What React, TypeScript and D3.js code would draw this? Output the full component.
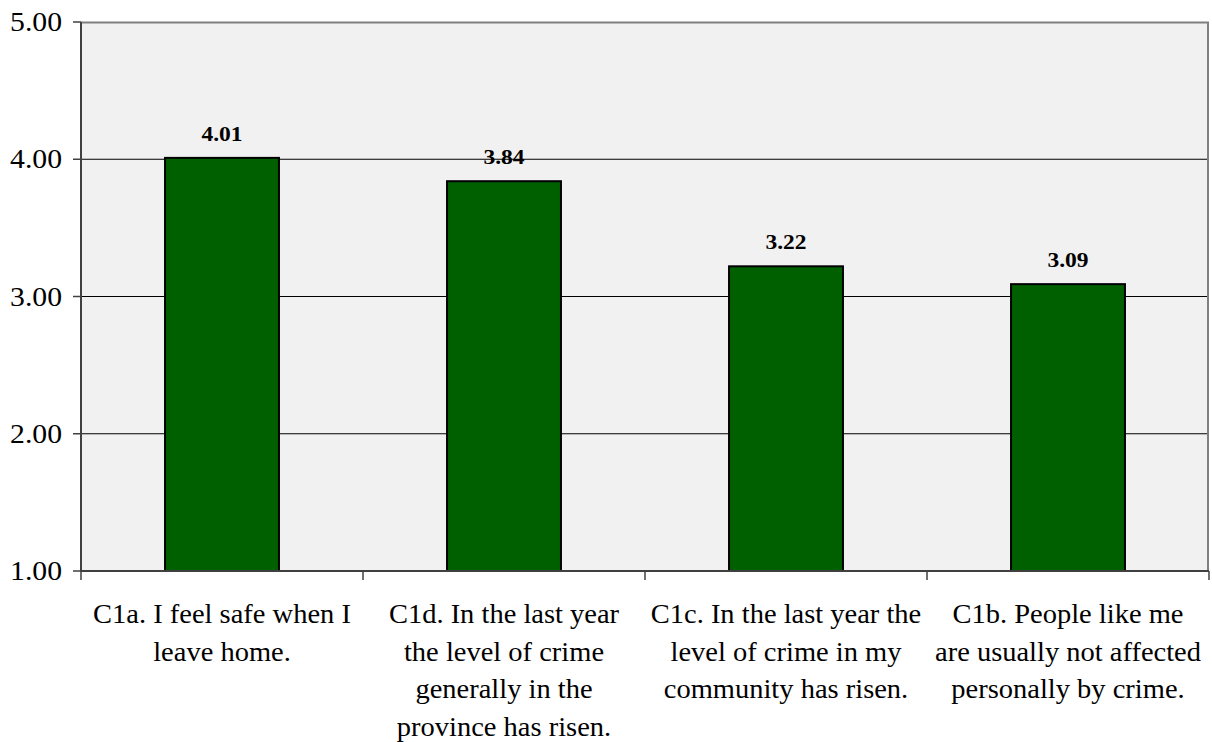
import * as d3 from "d3";
import React, { useEffect, useRef } from "react";

const categories = [
  ["C1a. I feel safe when I", "leave home."],
  ["C1d. In the last year", "the level of crime", "generally in the", "province has risen."],
  ["C1c. In the last year the", "level of crime in my", "community has risen."],
  ["C1b. People like me", "are usually not affected", "personally by crime."],
];
const values = [4.01, 3.84, 3.22, 3.09];
const yTicks = [1, 2, 3, 4, 5];

const W = 1212;
const H = 742;
const margin = { top: 22, right: 3, bottom: 171, left: 81 };
const FONT = "'Liberation Serif', 'Times New Roman', serif";

function drawChart(node: SVGSVGElement) {
  const svg = d3.select(node);
  svg.selectAll("*").remove();

  const x = d3
    .scaleBand<number>()
    .domain(d3.range(categories.length))
    .range([margin.left, W - margin.right])
    .paddingInner(0.596)
    .paddingOuter(0.298);
  const y = d3.scaleLinear().domain([1, 5]).range([H - margin.bottom, margin.top]);

  const x0 = margin.left;
  const x1 = W - margin.right;
  const y0 = H - margin.bottom;
  const y1 = margin.top;

  // plot background
  svg
    .append("rect")
    .attr("x", x0)
    .attr("y", y1)
    .attr("width", x1 - x0)
    .attr("height", y0 - y1)
    .attr("fill", "#f1f1f1");

  // grid lines
  svg
    .append("g")
    .selectAll("line")
    .data(yTicks.filter(t => t > 1 && t < 5))
    .join("line")
    .attr("x1", x0)
    .attr("x2", x1)
    .attr("y1", d => y(d))
    .attr("y2", d => y(d))
    .attr("stroke", "#000")
    .attr("stroke-width", 1);

  // top and right border
  svg
    .append("path")
    .attr("d", `M${x0},${y1 + 0.5}H${x1 - 1}V${y0}`)
    .attr("fill", "none")
    .attr("stroke", "#808080")
    .attr("stroke-width", 2);

  // bars
  svg
    .append("g")
    .selectAll("rect")
    .data(values)
    .join("rect")
    .attr("x", (d, i) => x(i)!)
    .attr("y", d => y(d))
    .attr("width", x.bandwidth())
    .attr("height", d => y0 - y(d))
    .attr("fill", "#006000")
    .attr("stroke", "#000")
    .attr("stroke-width", 2);

  // value labels (text in the source is slightly stretched horizontally)
  svg
    .append("g")
    .selectAll("text")
    .data(values)
    .join("text")
    .attr("transform", (d, i) => `translate(${x(i)! + x.bandwidth() / 2},${y(d) - 17}) scale(1.12,1)`)
    .attr("text-anchor", "middle")
    .attr("font-family", FONT)
    .attr("font-weight", "bold")
    .attr("font-size", 21)
    .attr("fill", "#000")
    .text(d => d.toFixed(2));

  // y axis
  const yAxis = svg.append("g").attr("transform", `translate(${x0},0)`);
  yAxis.append("line").attr("x1", 0).attr("x2", 0).attr("y1", y1).attr("y2", y0).attr("stroke", "#404040").attr("stroke-width", 2);
  yAxis
    .selectAll("line.tick")
    .data(yTicks)
    .join("line")
    .attr("class", "tick")
    .attr("x1", -8)
    .attr("x2", 0)
    .attr("y1", d => y(d))
    .attr("y2", d => y(d))
    .attr("stroke", "#404040")
    .attr("stroke-width", 1.5);
  yAxis
    .selectAll("text")
    .data(yTicks)
    .join("text")
    .attr("transform", d => `translate(-19,${y(d)}) scale(1.1,1)`)
    .attr("dy", "0.34em")
    .attr("text-anchor", "end")
    .attr("font-family", FONT)
    .attr("font-size", 27)
    .attr("fill", "#000")
    .text(d => d.toFixed(2));

  // x axis
  const xAxis = svg.append("g");
  xAxis.append("line").attr("x1", x0).attr("x2", x1).attr("y1", y0).attr("y2", y0).attr("stroke", "#404040").attr("stroke-width", 2);
  const step = x.step();
  xAxis
    .selectAll("line.tick")
    .data(d3.range(categories.length + 1))
    .join("line")
    .attr("class", "tick")
    .attr("x1", i => x0 + i * step)
    .attr("x2", i => x0 + i * step)
    .attr("y1", y0)
    .attr("y2", y0 + 9)
    .attr("stroke", "#404040")
    .attr("stroke-width", 1.5);

  const labels = xAxis
    .selectAll("text")
    .data(categories)
    .join("text")
    .attr("transform", (d, i) => `translate(${x(i)! + x.bandwidth() / 2},${y0 + 52}) scale(1.055,1)`)
    .attr("text-anchor", "middle")
    .attr("font-family", FONT)
    .attr("font-size", 27)
    .attr("fill", "#000");
  labels
    .selectAll("tspan")
    .data(d => d)
    .join("tspan")
    .attr("x", 0)
    .attr("dy", (d, j) => (j === 0 ? 0 : 37.7))
    .text(d => d);
}

export default function App() {
  const ref = useRef<SVGSVGElement>(null);
  useEffect(() => {
    if (ref.current) drawChart(ref.current);
  }, []);
  return (
    <div style={{ position: "absolute", left: 0, top: 0 }}>
      <svg ref={ref} width={W} height={H} style={{ display: "block", background: "#fff" }} />
    </div>
  );
}
